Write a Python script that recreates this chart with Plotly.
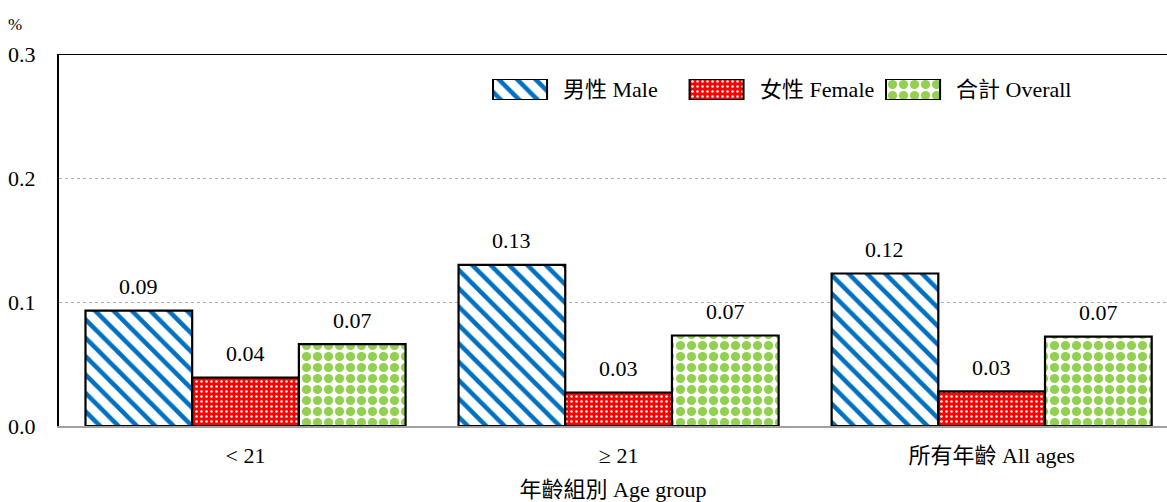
import plotly.graph_objects as go

categories = ["< 21", "≥ 21", "所有年齡 All ages"]
series_names = ["男性 Male", "女性 Female", "合計 Overall"]
male = [0.093, 0.130, 0.123]
female = [0.039, 0.027, 0.028]
overall = [0.066, 0.073, 0.072]
male_labels = ["0.09", "0.13", "0.12"]
female_labels = ["0.04", "0.03", "0.03"]
overall_labels = ["0.07", "0.07", "0.07"]

FONT = "Liberation Serif, Noto Sans CJK TC, serif"
FS = 22

patterns = [
    dict(shape="\\", fgcolor="#0070C0", bgcolor="white", size=13, solidity=0.35, fgopacity=1),
    dict(shape=".", fgcolor="white", bgcolor="#FF0000", size=5, solidity=0.2, fgopacity=1),
    dict(shape=".", fgcolor="#92D050", bgcolor="white", size=11, solidity=0.55, fgopacity=1),
]
base_colors = ["white", "#FF0000", "white"]
values = [male, female, overall]
labels = [male_labels, female_labels, overall_labels]

fig = go.Figure()
for name, vals, pat, col in zip(series_names, values, patterns, base_colors):
    fig.add_trace(go.Bar(
        name=name, x=categories, y=vals, showlegend=False,
        marker=dict(color=col, line=dict(color="black", width=2.2), pattern=pat),
    ))

# custom legend swatches (large patterned boxes) on an inset axis
for i, (name, pat, col) in enumerate(zip(series_names, patterns, base_colors)):
    fig.add_trace(go.Bar(
        x=[i], y=[1], width=0.275, xaxis="x2", yaxis="y2", showlegend=False,
        hoverinfo="skip",
        marker=dict(color=col, line=dict(color="black", width=2), pattern=pat),
    ))

bargap = 0.142
bw = (1 - bargap) / 3
annotations = []
for i in range(len(categories)):
    for off, vals, labs in zip((-bw, 0, bw), values, labels):
        annotations.append(dict(x=i + off, y=vals[i], xref="x", yref="y", text=labs[i],
                                showarrow=False, yanchor="middle", yshift=24,
                                font=dict(size=FS, color="black", family=FONT)))
for i, name in enumerate(series_names):
    annotations.append(dict(x=i + 0.275 / 2, y=0.5, xref="x2", yref="y2", text=name,
                            showarrow=False, xanchor="left", yanchor="middle", xshift=14,
                            font=dict(size=FS, color="black", family=FONT)))
annotations.append(dict(x=-0.0397, y=1.078, xref="paper", yref="paper", text="%",
                        showarrow=False, xanchor="center", yanchor="middle",
                        font=dict(size=17, color="black", family=FONT)))

fig.update_layout(
    width=1167, height=502, autosize=False,
    margin=dict(l=59, r=0, t=54, b=76),
    paper_bgcolor="white", plot_bgcolor="white",
    barmode="group", bargap=bargap, bargroupgap=0,
    font=dict(family=FONT, size=FS, color="black"),
    showlegend=False,
    annotations=annotations,
    xaxis=dict(range=[-0.5, 2.47], showline=True, linecolor="#A0A0A0", linewidth=2,
               showgrid=False, ticks="", ticklabelstandoff=9,
               tickfont=dict(size=FS, family=FONT),
               title=dict(text="年齡組別 Age group", font=dict(size=FS, family=FONT), standoff=15)),
    yaxis=dict(range=[0, 0.3], dtick=0.1, tickformat=".1f", showline=True, linecolor="black",
               linewidth=2, showgrid=True, gridcolor="#B0B0B0", griddash="dot", gridwidth=1,
               ticks="", ticklabelstandoff=17, tickfont=dict(size=FS, family=FONT),
               zeroline=False),
    xaxis2=dict(domain=[0.380, 0.8132], range=[-0.2036, 2.239], anchor="y2",
                visible=False, fixedrange=True),
    yaxis2=dict(domain=[0.8763, 0.9328], range=[0, 1], anchor="x2",
                visible=False, fixedrange=True),
    shapes=[dict(type="line", xref="paper", yref="y", x0=0, x1=1, y0=0.3, y1=0.3,
                 line=dict(color="black", width=2))],
)

fig.write_html("out.html", post_script="document.body.style.margin='0';",
               config={"displayModeBar": False})
